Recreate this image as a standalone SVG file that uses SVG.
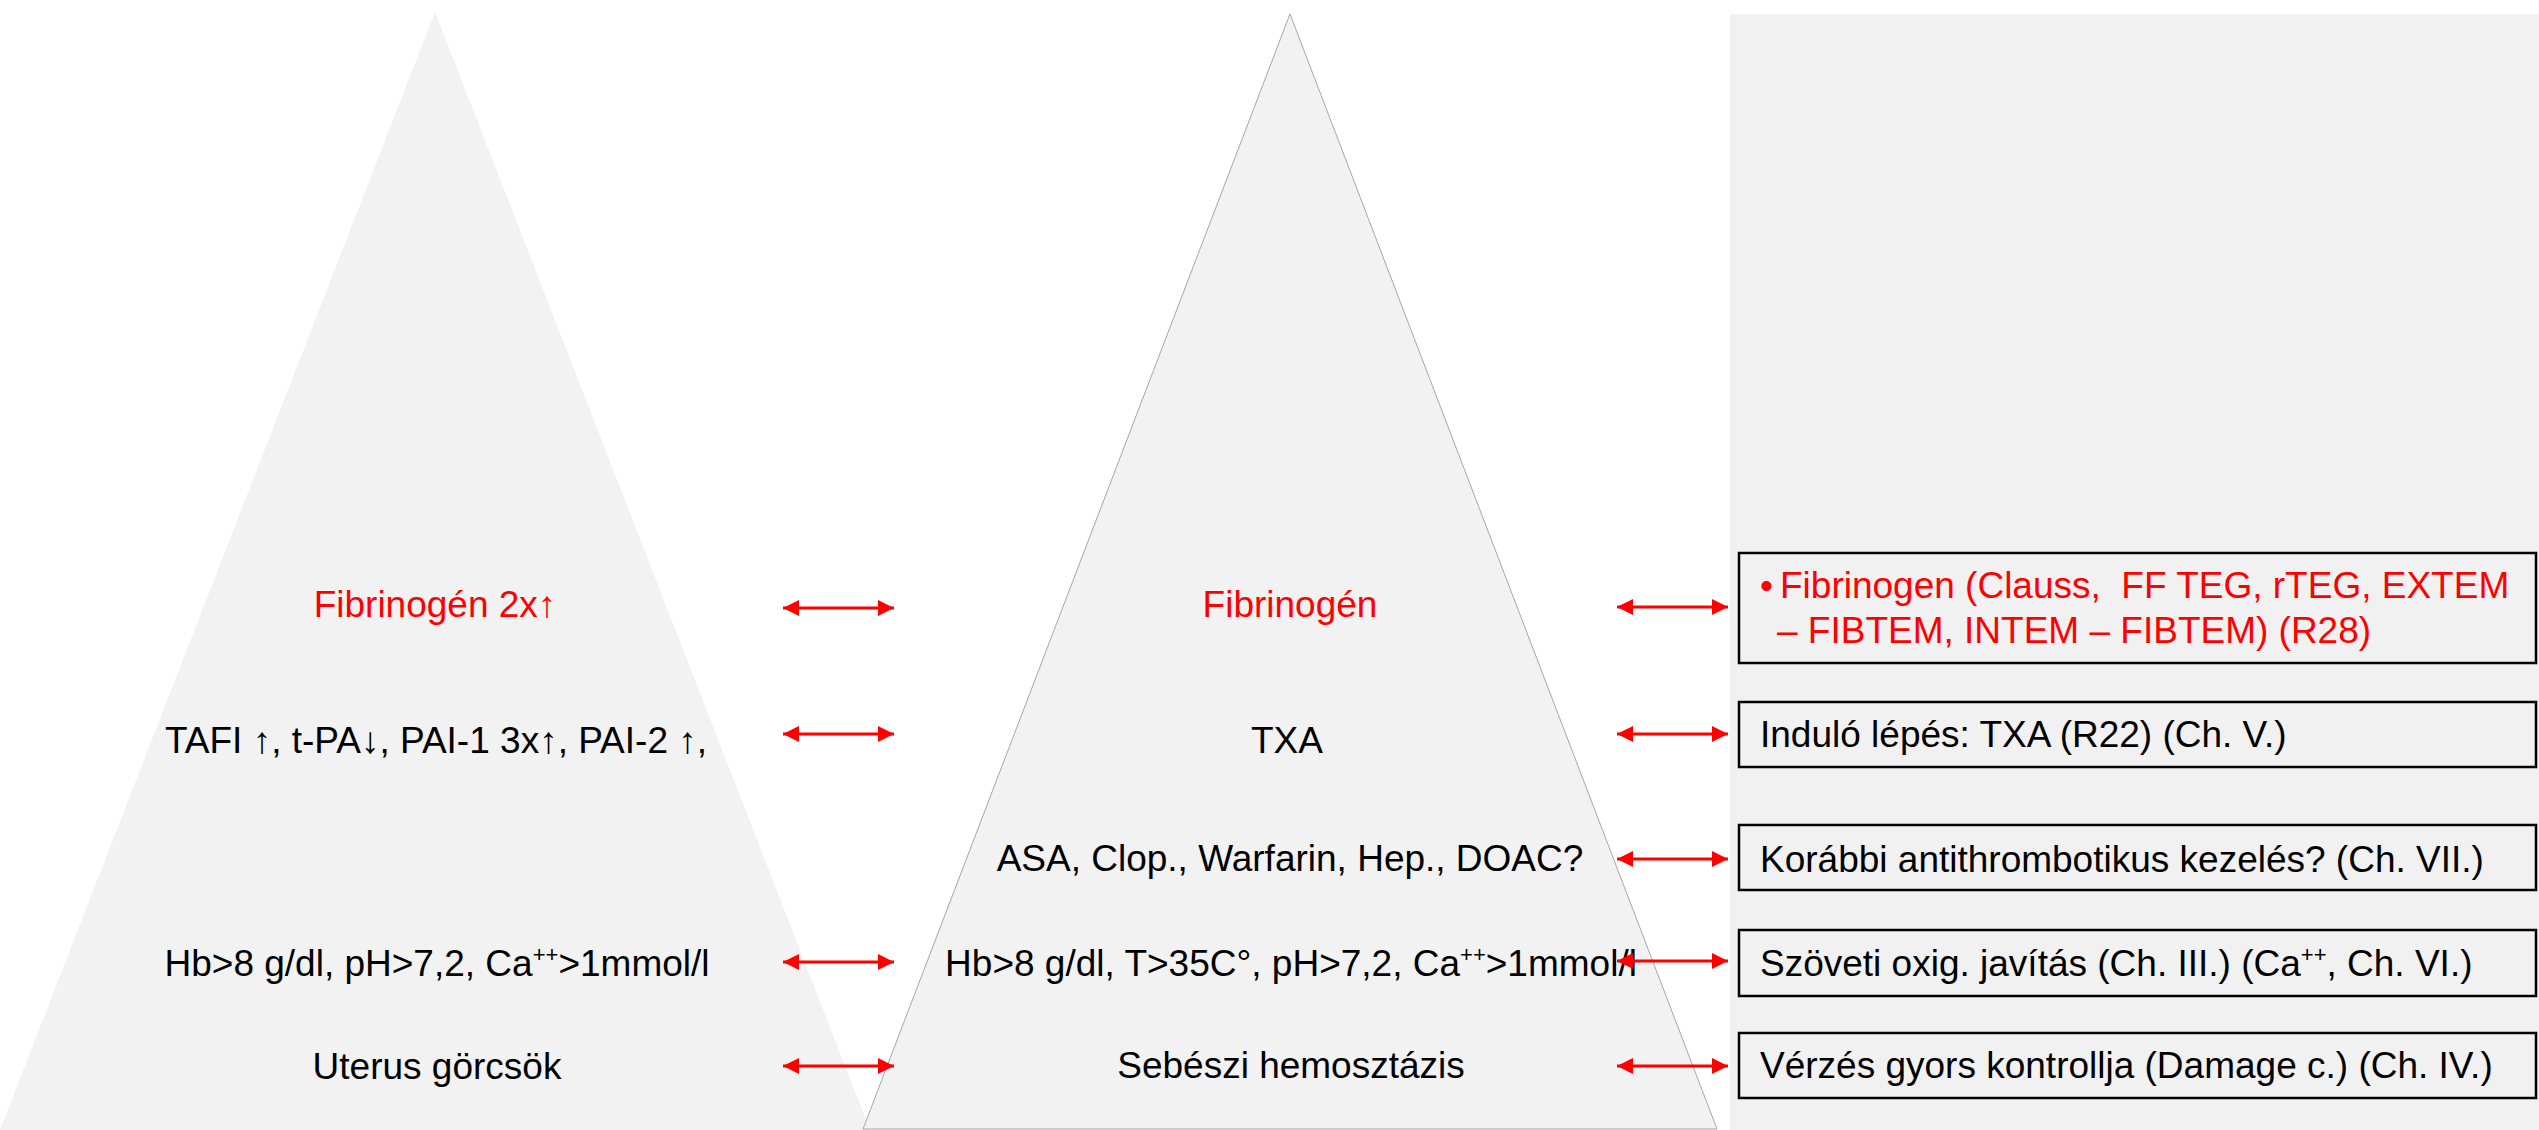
<svg xmlns="http://www.w3.org/2000/svg" width="2539" height="1130" viewBox="0 0 2539 1130">
  <style>
    .t { font-family: "Liberation Sans", Arial, sans-serif; font-size: 37px; fill: #000; }
    .c { text-anchor: middle; }
    .red { fill: #ff0000; }
    .box { fill: none; stroke: #000; stroke-width: 2.5; }
    .arrow { stroke: #ff0000; stroke-width: 3; fill: none; marker-start: url(#head); marker-end: url(#head); }
    .sup { font-size: 22px; }
  </style>
  <defs>
    <marker id="head" markerUnits="userSpaceOnUse" markerWidth="18" markerHeight="18" refX="16" refY="8" orient="auto-start-reverse">
      <path d="M0,0 L16,8 L0,16 Z" fill="#ff0000"/>
    </marker>
  </defs>

  <rect width="2539" height="1130" fill="#ffffff"/>

  <!-- physiological pyramid -->
  <g id="pyramid-left">
    <polygon points="435,12 0,1130 870,1130" fill="#f2f2f2"/>
    <text class="t c red" x="435" y="617">Fibrinogén 2x↑</text>
    <text class="t c" x="436" y="753">TAFI ↑, t-PA↓, PAI-1 3x↑, PAI-2 ↑,</text>
    <text class="t c" x="437" y="976">Hb&gt;8 g/dl, pH&gt;7,2, Ca<tspan class="sup" dy="-14">++</tspan><tspan dy="14">&gt;1mmol/l</tspan></text>
    <text class="t c" x="437" y="1079">Uterus görcsök</text>
  </g>

  <!-- treatment pyramid -->
  <g id="pyramid-middle">
    <polygon points="1290,14 863,1129 1717,1129" fill="#f2f2f2" stroke="#a6a6a6" stroke-width="1"/>
    <text class="t c red" x="1290" y="617">Fibrinogén</text>
    <text class="t c" x="1287" y="753">TXA</text>
    <text class="t c" x="1290" y="871">ASA, Clop., Warfarin, Hep., DOAC?</text>
    <text class="t c" x="1291" y="976">Hb&gt;8 g/dl, T&gt;35C°, pH&gt;7,2, Ca<tspan class="sup" dy="-14">++</tspan><tspan dy="14">&gt;1mmol/l</tspan></text>
    <text class="t c" x="1291" y="1078">Sebészi hemosztázis</text>
  </g>

  <!-- guideline panel -->
  <g id="panel">
    <rect x="1730" y="14" width="809" height="1116" fill="#f1f1f1"/>
  </g>

  <g id="box-fibrinogen">
    <rect class="box" x="1739" y="553" width="797" height="110"/>
    <text class="t red" x="1760" y="598">•</text>
    <text class="t red" x="1780" y="598" xml:space="preserve">Fibrinogen (Clauss,  FF TEG, rTEG, EXTEM</text>
    <text class="t red" x="1777" y="643">– FIBTEM, INTEM – FIBTEM) (R28)</text>
  </g>
  <g id="box-txa">
    <rect class="box" x="1739" y="702" width="797" height="65"/>
    <text class="t" x="1760" y="747">Induló lépés: TXA (R22) (Ch. V.)</text>
  </g>
  <g id="box-antithrombotic">
    <rect class="box" x="1739" y="825" width="797" height="65"/>
    <text class="t" x="1760" y="872">Korábbi antithrombotikus kezelés? (Ch. VII.)</text>
  </g>
  <g id="box-oxygenation">
    <rect class="box" x="1739" y="930" width="797" height="66"/>
    <text class="t" x="1760" y="976">Szöveti oxig. javítás (Ch. III.) (Ca<tspan class="sup" dy="-14">++</tspan><tspan dy="14">, Ch. VI.)</tspan></text>
  </g>
  <g id="box-bleeding">
    <rect class="box" x="1739" y="1033" width="797" height="65"/>
    <text class="t" x="1760" y="1078">Vérzés gyors kontrollja (Damage c.) (Ch. IV.)</text>
  </g>

  <!-- double-headed links between levels -->
  <g id="connectors">
    <line class="arrow" x1="783" y1="608" x2="894" y2="608"/>
    <line class="arrow" x1="783" y1="734" x2="894" y2="734"/>
    <line class="arrow" x1="783" y1="962" x2="894" y2="962"/>
    <line class="arrow" x1="783" y1="1066" x2="894" y2="1066"/>
    <line class="arrow" x1="1617" y1="607" x2="1728" y2="607"/>
    <line class="arrow" x1="1617" y1="734" x2="1728" y2="734"/>
    <line class="arrow" x1="1617" y1="859" x2="1728" y2="859"/>
    <line class="arrow" x1="1617" y1="961" x2="1728" y2="961"/>
    <line class="arrow" x1="1617" y1="1066" x2="1728" y2="1066"/>
  </g>
</svg>
